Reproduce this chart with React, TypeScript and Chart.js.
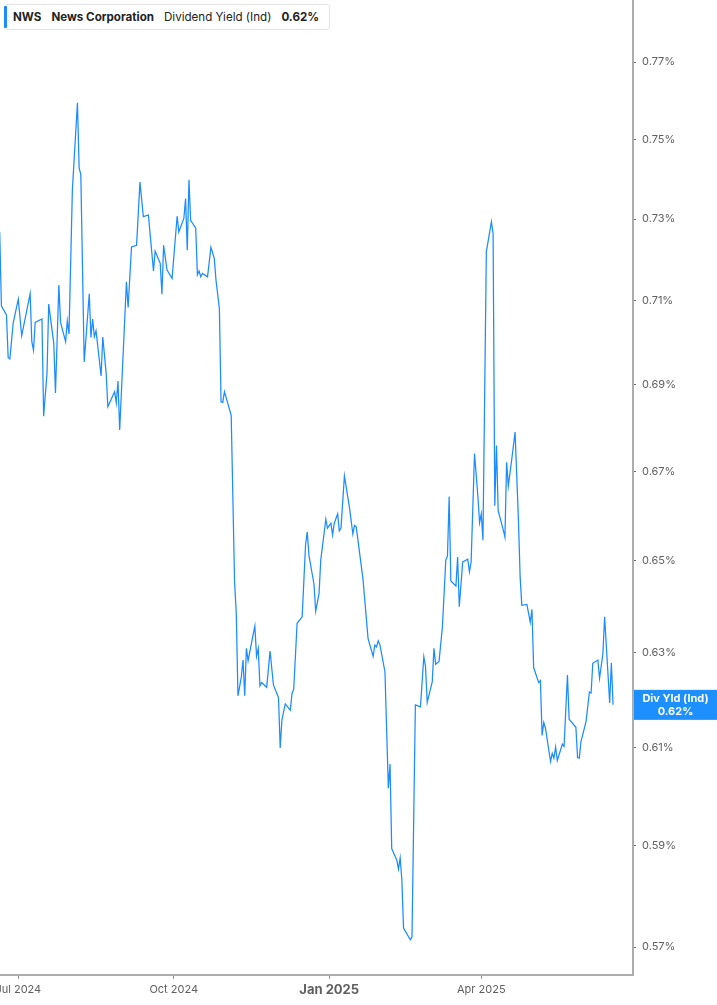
import React, { useEffect, useRef } from "react";
import { Chart, registerables } from "chart.js";

Chart.register(...registerables);

// days since 2024-07-01
const DAY_OFFSETS: number[] = [
  -11, -10, -7, -6, -5, -3, 0, 2, 7, 8, 9, 10, 14, 15, 17, 18, 21, 22, 24, 25,
  28, 29, 30, 32, 35, 36, 37, 39, 42, 43, 44, 45, 46, 49, 50, 52, 53, 57, 58, 59,
  60, 64, 65, 67, 70, 72, 74, 77, 80, 81, 84, 85, 86, 88, 91, 94, 95, 98, 99, 100,
  101, 102, 105, 106, 107, 108, 109, 112, 114, 116, 117, 119, 120, 121, 122, 126, 128, 129, 130, 132,
  133, 134, 135, 136, 138, 140, 141, 142, 143, 144, 147, 149, 151, 154, 155, 156, 158, 161, 162, 163,
  165, 168, 170, 171, 172, 175, 176, 178, 179, 182, 183, 185, 186, 187, 189, 190, 191, 193, 196, 198,
  199, 200, 204, 207, 210, 211, 212, 213, 214, 217, 219, 220, 221, 224, 225, 226, 227, 228, 232, 233,
  235, 238, 240, 241, 242, 245, 246, 247, 249, 251, 253, 254, 255, 256, 259, 260, 261, 263, 266, 267,
  268, 270, 272, 273, 274, 275, 277, 280, 281, 282, 283, 284, 287, 288, 289, 290, 292, 294, 296, 297,
  298, 301, 303, 304, 305, 308, 309, 310, 311, 312, 315, 316, 317, 318, 319, 322, 323, 325, 326, 330,
  331, 332, 333, 336, 338, 339, 340, 343, 344, 346, 347, 350, 351, 352,
];

// Dividend yield (indicated), percent
const DIV_YIELD: number[] = [
  0.7268, 0.7088, 0.7066, 0.6964, 0.6961, 0.7047, 0.7104, 0.7016, 0.7117, 0.7002, 0.6982, 0.7048, 0.7056, 0.6827, 0.6928, 0.7092, 0.6998, 0.6881, 0.7138, 0.7048,
  0.7002, 0.7052, 0.702, 0.7372, 0.7594, 0.7428, 0.7411, 0.6954, 0.7117, 0.7012, 0.7056, 0.7014, 0.7028, 0.6921, 0.7013, 0.6927, 0.6849, 0.6884, 0.6858, 0.6909,
  0.6795, 0.7146, 0.7084, 0.7231, 0.7235, 0.7392, 0.7306, 0.731, 0.7172, 0.7221, 0.7191, 0.7116, 0.7235, 0.7175, 0.7154, 0.7307, 0.7268, 0.7302, 0.7351, 0.7223,
  0.7398, 0.7297, 0.7277, 0.7163, 0.7172, 0.7158, 0.7166, 0.7158, 0.723, 0.7203, 0.715, 0.7082, 0.686, 0.6859, 0.6884, 0.6829, 0.6453, 0.6384, 0.6208, 0.6248,
  0.6284, 0.6208, 0.6309, 0.6282, 0.632, 0.6357, 0.6292, 0.6309, 0.6229, 0.6236, 0.6226, 0.6303, 0.6231, 0.6204, 0.6099, 0.6157, 0.6191, 0.6178, 0.6213, 0.6222,
  0.6363, 0.6377, 0.6534, 0.6564, 0.6512, 0.6448, 0.6389, 0.6428, 0.6501, 0.6592, 0.6572, 0.6583, 0.6557, 0.6583, 0.6604, 0.6566, 0.6572, 0.669, 0.6618, 0.6559,
  0.6578, 0.6575, 0.6459, 0.633, 0.6292, 0.6316, 0.6312, 0.6325, 0.6317, 0.6259, 0.6016, 0.6066, 0.5894, 0.5871, 0.5853, 0.5875, 0.5832, 0.5737, 0.5714, 0.572,
  0.6189, 0.6185, 0.6291, 0.627, 0.6194, 0.6238, 0.6309, 0.6275, 0.6281, 0.6355, 0.6501, 0.651, 0.6643, 0.6455, 0.6444, 0.6508, 0.6399, 0.6497, 0.6503, 0.6475,
  0.6497, 0.6741, 0.6643, 0.6584, 0.6604, 0.6545, 0.7219, 0.7293, 0.7264, 0.6622, 0.6759, 0.6611, 0.6568, 0.6552, 0.6721, 0.6667, 0.6726, 0.679, 0.659, 0.6464,
  0.6402, 0.6404, 0.6365, 0.6393, 0.6268, 0.6236, 0.624, 0.6125, 0.6152, 0.614, 0.6071, 0.6088, 0.6078, 0.6101, 0.6073, 0.6107, 0.6102, 0.6252, 0.6159, 0.6142,
  0.6079, 0.6078, 0.6112, 0.6154, 0.6216, 0.6214, 0.6277, 0.6284, 0.6245, 0.6298, 0.6377, 0.6193, 0.6278, 0.6189,
];

const X_TICK_DAYS: number[] = [0, 92, 184, 274];
const X_TICK_LABELS: string[] = ["Jul 2024", "Oct 2024", "Jan 2025", "Apr 2025"];
const Y_TICKS: number[] = [0.57, 0.59, 0.61, 0.63, 0.65, 0.67, 0.69, 0.71, 0.73, 0.75, 0.77];

const X_MIN = -10.83;
const X_MAX = 363.8;
const Y_MIN = 0.56467;
const Y_MAX = 0.7864;

const LINE_COLOR = "#1a8cff";
const FONT = "Inter, 'Noto Sans', sans-serif";

const lastValuePlugin = {
  id: "lastValueLabel",
  afterDraw(chart: any) {
    const { ctx, chartArea, scales } = chart;
    const last = DIV_YIELD[DIV_YIELD.length - 1];
    const y = scales.y.getPixelForValue(last);
    const left = chartArea.right + 1;
    const right = chart.width;
    const h = 30;
    ctx.save();
    ctx.fillStyle = "#1e8fff";
    ctx.fillRect(left, y - h / 2, right - left, h);
    ctx.fillStyle = "#ffffff";
    ctx.font = `bold 11px ${FONT}`;
    ctx.textAlign = "center";
    ctx.textBaseline = "middle";
    const cx = (left + right) / 2;
    ctx.fillText("Div Yld (Ind)", cx, y - 6.5);
    ctx.fillText(`${last.toFixed(2)}%`, cx, y + 6.5);
    ctx.restore();
  },
};

export default function App() {
  const canvasRef = useRef<HTMLCanvasElement | null>(null);

  useEffect(() => {
    document.body.style.margin = "0";
    const canvas = canvasRef.current;
    if (!canvas) return;
    const points = DAY_OFFSETS.map((d, i) => ({ x: d, y: DIV_YIELD[i] }));
    const chart = new Chart(canvas, {
      type: "line",
      data: {
        datasets: [
          {
            data: points,
            borderColor: LINE_COLOR,
            borderWidth: 1.25,
            pointRadius: 0,
            tension: 0,
            fill: false,
          },
        ],
      },
      options: {
        animation: false,
        responsive: false,
        maintainAspectRatio: false,
        layout: { padding: 0 },
        plugins: {
          legend: { display: false },
          tooltip: { enabled: false },
        },
        scales: {
          x: {
            type: "linear",
            position: "bottom",
            min: X_MIN,
            max: X_MAX,
            bounds: "data",
            afterBuildTicks: (scale: any) => {
              scale.ticks = X_TICK_DAYS.map((v) => ({ value: v }));
            },
            afterFit: (scale: any) => {
              scale.height = 30.3;
              scale.paddingLeft = 0;
              scale.paddingRight = 0;
            },
            ticks: {
              autoSkip: false,
              maxRotation: 0,
              padding: 4,
              color: "#5f5f5f",
              font: (ctx: any) =>
                ctx.tick && ctx.tick.value === 184
                  ? { family: FONT, size: 13, weight: "bold" }
                  : { family: FONT, size: 11 },
              callback: (value: any) => {
                const idx = X_TICK_DAYS.indexOf(Number(value));
                return idx >= 0 ? X_TICK_LABELS[idx] : "";
              },
            },
            grid: {
              drawOnChartArea: false,
              drawTicks: true,
              tickLength: 4,
              tickColor: "#8a8a8a",
              tickWidth: 1,
            },
            border: { display: true, color: "#acacac", width: 2 },
          },
          y: {
            type: "logarithmic",
            position: "right",
            min: Y_MIN,
            max: Y_MAX,
            bounds: "data",
            afterBuildTicks: (scale: any) => {
              scale.ticks = Y_TICKS.map((v) => ({ value: v }));
            },
            afterFit: (scale: any) => {
              scale.width = 84;
              scale.paddingTop = 0;
              scale.paddingBottom = 0;
            },
            ticks: {
              autoSkip: false,
              padding: 6,
              color: "#5f5f5f",
              font: { family: FONT, size: 11 },
              callback: (value: any) => `${Number(value).toFixed(2)}%`,
            },
            grid: {
              drawOnChartArea: false,
              drawTicks: true,
              tickLength: 3,
              tickColor: "#666666",
              tickWidth: 1,
            },
            border: { display: true, color: "#acacac", width: 2 },
          },
        },
      },
      plugins: [lastValuePlugin],
    } as any);
    return () => chart.destroy();
  }, []);

  const last = DIV_YIELD[DIV_YIELD.length - 1];

  return (
    <div style={{ position: "relative", width: 717, height: 1005, overflow: "hidden", background: "#fff" }}>
      <canvas ref={canvasRef} width={717} height={1005} style={{ display: "block", width: 717, height: 1005 }} />
      <div
        style={{
          position: "absolute",
          left: 4,
          top: 4,
          height: 26,
          width: 326,
          boxSizing: "border-box",
          background: "#fff",
          border: "1px solid #e3e3e3",
          borderRadius: 3,
          display: "flex",
          alignItems: "center",
          fontFamily: FONT,
          fontSize: 11.6,
          color: "#222",
          whiteSpace: "nowrap",
        }}
      >
        <div style={{ position: "absolute", left: -1, top: 1, bottom: 1, width: 3, background: LINE_COLOR, borderRadius: 1 }} />
        <span style={{ fontWeight: 700, marginLeft: 8 }}>NWS</span>
        <span style={{ fontWeight: 700, marginLeft: 10 }}>News Corporation</span>
        <span style={{ fontWeight: 400, marginLeft: 10 }}>Dividend Yield (Ind)</span>
        <span style={{ fontWeight: 700, marginLeft: 10 }}>{`${last.toFixed(2)}%`}</span>
      </div>
    </div>
  );
}
